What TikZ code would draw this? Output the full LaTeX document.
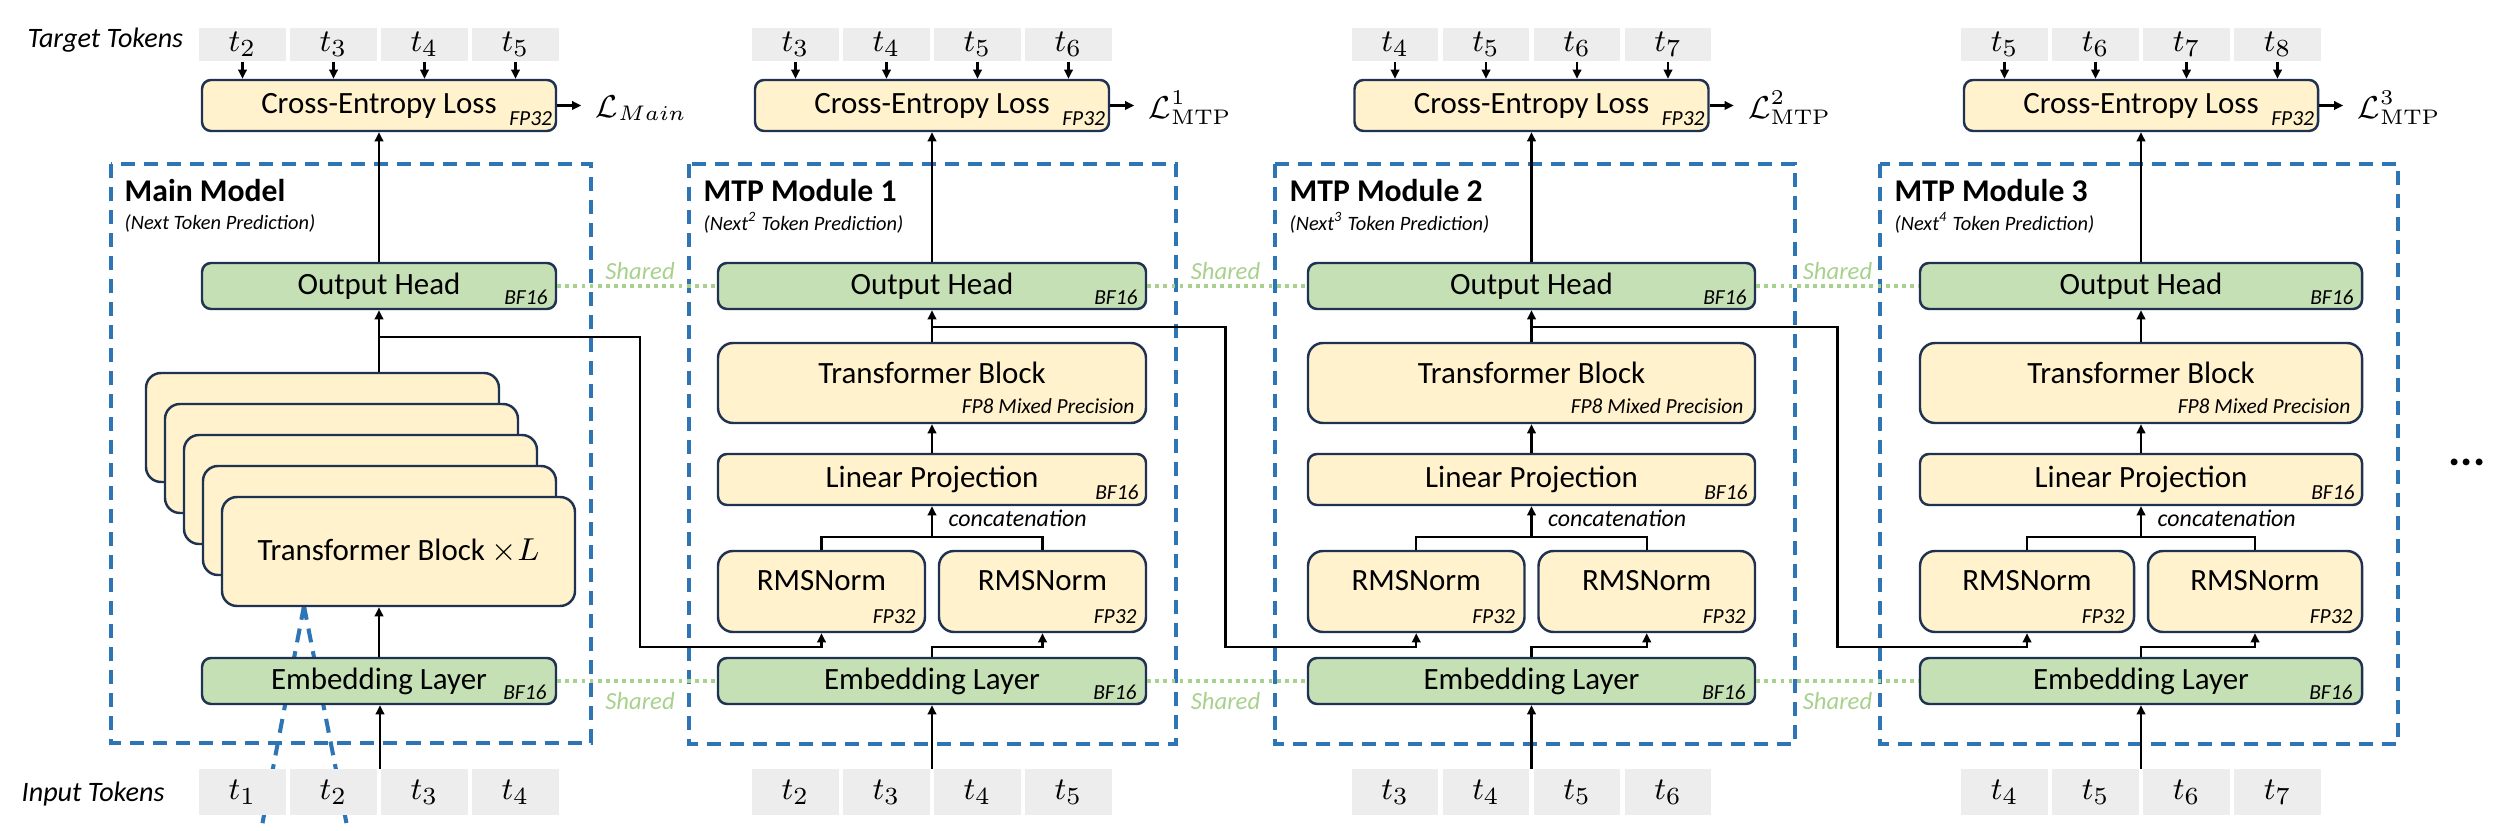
\documentclass[tikz,border=0pt]{standalone}
\usepackage[no-math]{fontspec}
\setmainfont{Carlito}
\usetikzlibrary{arrows.meta,calc}
\definecolor{boxline}{HTML}{1F3251}
\definecolor{yel}{HTML}{FFF2CC}
\definecolor{grn}{HTML}{C5E0B4}
\definecolor{dblue}{HTML}{2E75B6}
\definecolor{shgreen}{HTML}{A9D18E}
\definecolor{tokgray}{HTML}{EDEDED}
\tikzset{
  blk/.style={draw=boxline, line width=0.7pt, rounded corners=0.09cm, inner sep=0pt, font=\fontsize{8.8}{10}\selectfont},
  yblk/.style={blk, fill=yel},
  gblk/.style={blk, fill=grn},
  tallblk/.style={rounded corners=0.15cm},
  blklab/.style={font=\fontsize{8.8}{10}\selectfont, inner sep=0pt},
  tok/.style={fill=tokgray, inner sep=0pt, minimum width=0.86cm, font=\fontsize{9.5}{10}\selectfont},
  prec/.style={font=\fontsize{6.1}{7}\selectfont\itshape, inner sep=0pt},
  arr/.style={line width=0.65pt, -{Triangle[length=2.6pt,width=2.4pt]}},
  conn/.style={line width=0.65pt},
  modbox/.style={draw=dblue, line width=1.15pt, dash pattern=on 0.14cm off 0.09cm},
  shline/.style={draw=shgreen, line width=1.1pt, dash pattern=on 1.1pt off 1.2pt},
  shlab/.style={text=shgreen, font=\fontsize{7}{8}\selectfont\itshape, inner sep=0pt},
  rowlab/.style={font=\fontsize{8}{9}\selectfont\itshape, inner sep=0pt, anchor=base west},
  title/.style={font=\fontsize{9}{10}\selectfont\bfseries, inner sep=0pt, anchor=west},
  subtitle/.style={font=\fontsize{5.8}{7}\selectfont\itshape, inner sep=0pt, anchor=west},
  loss/.style={font=\fontsize{9}{10}\selectfont, inner sep=0pt, anchor=west},
  conlab/.style={font=\fontsize{6.8}{8}\selectfont\itshape, inner sep=0pt, anchor=base west},
}
\newcommand{\bx}[7]{\node[#6, minimum width={((#4)-(#2))*0.01cm}, minimum height={((#5)-(#3))*0.01cm}] (#1) at ({((#2)+(#4))/2},{((#3)+(#5))/2}) {#7};}
\newcommand{\tokens}[5]{%
  \foreach \k in {0,1,2,3}{%
    \pgfmathtruncatemacro{\idx}{#5+\k}%
    \node[tok, minimum height={#4*0.01cm}] (#1\k) at ({#2+(\k-1.5)*91},#3) {$t_{\idx}$};
  }}
\newcommand{\mtpcol}[8]{%
  \pgfmathsetmacro{\cx}{(#2+#3)/2}%
  \pgfmathsetmacro{\rw}{(#3-#2-14)/2}%
  \pgfmathtruncatemacro{\inidx}{#8-1}%
  \draw[modbox] (#4,164) rectangle (#5,744);
  \node[title] (tt#1) at (#4+14,191) {MTP Module #6};
  \node[subtitle] (sub#1) at (#4+14,223) {(Next\textsuperscript{#7} Token Prediction)};
  \tokens{ta#1}{\cx}{44.5}{33}{#8}
  \tokens{ti#1}{\cx}{792}{46}{\inidx}
  \bx{ce#1}{\cx-177}{80}{\cx+177}{131}{yblk}{Cross-Entropy Loss}
  \node[prec,anchor=base east] at ([xshift=-0.045cm,yshift=0.07cm]ce#1.south east) {FP32};
  \bx{oh#1}{#2}{263}{#3}{309}{gblk}{Output Head}
  \node[prec,anchor=base east] at ([xshift=-0.09cm,yshift=0.06cm]oh#1.south east) {BF16};
  \bx{tb#1}{#2}{343}{#3}{423}{yblk,tallblk}{}
  \node[blklab] at ([yshift=0.1cm]tb#1.center) {Transformer Block};
  \node[prec,anchor=base east] at ([xshift=-0.12cm,yshift=0.11cm]tb#1.south east) {FP8 Mixed Precision};
  \bx{lp#1}{#2}{454}{#3}{505}{yblk}{Linear Projection}
  \node[prec,anchor=base east] at ([xshift=-0.08cm,yshift=0.07cm]lp#1.south east) {BF16};
  \bx{rl#1}{#2}{551}{#2+\rw}{632}{yblk,tallblk}{}
  \bx{rr#1}{#3-\rw}{551}{#3}{632}{yblk,tallblk}{}
  \node[blklab] at ([yshift=0.105cm]rl#1.center) {RMSNorm};
  \node[blklab] at ([yshift=0.105cm]rr#1.center) {RMSNorm};
  \node[prec,anchor=base east] at ([xshift=-0.1cm,yshift=0.1cm]rl#1.south east) {FP32};
  \node[prec,anchor=base east] at ([xshift=-0.1cm,yshift=0.1cm]rr#1.south east) {FP32};
  \bx{em#1}{#2}{658}{#3}{704}{gblk}{Embedding Layer}
  \node[prec,anchor=base east] at ([xshift=-0.1cm,yshift=0.06cm]em#1.south east) {BF16};
  \foreach \k in {0,1,2,3}{\draw[arr] (ta#1\k.south) -- (ta#1\k.south |- ce#1.north);}
  \draw[arr] (oh#1.north) -- (ce#1.south);
  \draw[arr] (tb#1.north) -- (oh#1.south);
  \draw[arr] (lp#1.north) -- (tb#1.south);
  \coordinate (cc#1) at (\cx,537);
  \draw[conn] (rl#1.north) |- (cc#1) -| (rr#1.north);
  \draw[arr] (cc#1) -- (lp#1.south);
  \node[conlab] at (\cx+16,527) {concatenation};
  \coordinate (ej#1) at (\cx,647);
  \draw[arr] (em#1.north) -- (ej#1) -| (rr#1.south);
  \coordinate (ia#1) at (\cx,769);
  \draw[arr] (ia#1) -- (em#1.south);
  \draw[arr] (ce#1.east) -- ++(24,0) coordinate (la#1);
  \node[loss] (L#1) at ([xshift=0.14cm]la#1 |- 0,108) {$\mathcal{L}^{#6}_{\mathrm{MTP}}$};
}
\begin{document}
\begin{tikzpicture}[x=0.01cm,y=-0.01cm]
\fill[white] (0,0) rectangle (2502,831);
\useasboundingbox (0,0) rectangle (2502,831);
% zoom lines of the main model
\coordinate (zm) at (304,606);
\coordinate (zl) at (261,831);
\coordinate (zr) at (348,831);
\draw[modbox] (zm) -- (zl);
\draw[modbox] (zm) -- (zr);
% row labels
\node[rowlab] (tgtlab) at (27,48) {Target Tokens};
\node[rowlab] (inlab) at (21,802) {Input Tokens};
% main model
\draw[modbox] (111,164) rectangle (591,743);
\node[title] (tt1) at (124,191) {Main Model};
\node[subtitle] (sub1) at (124,223) {(Next Token Prediction)};
\tokens{ta1}{379}{44.5}{33}{2}
\tokens{ti1}{379}{792}{46}{1}
\bx{ce1}{202}{80}{556}{131}{yblk}{Cross-Entropy Loss}
\node[prec,anchor=base east] at ([xshift=-0.045cm,yshift=0.07cm]ce1.south east) {FP32};
\bx{oh1}{202}{263}{556}{309}{gblk}{Output Head}
\node[prec,anchor=base east] at ([xshift=-0.09cm,yshift=0.06cm]oh1.south east) {BF16};
\foreach \k in {0,1,2,3,4}{\bx{stk\k}{146+19*\k}{373+31*\k}{499+19*\k}{482+31*\k}{yblk,tallblk}{}}
\node[blklab] at (stk4.center) {Transformer Block $\times L$};
\bx{em1}{202}{658}{556}{704}{gblk}{Embedding Layer}
\node[prec,anchor=base east] at ([xshift=-0.1cm,yshift=0.06cm]em1.south east) {BF16};
\foreach \k in {0,1,2,3}{\draw[arr] (ta1\k.south) -- (ta1\k.south |- ce1.north);}
\draw[arr] (oh1.north) -- (ce1.south);
\draw[arr] (oh1.south |- stk0.north) -- (oh1.south);
\draw[arr] (em1.north) -- (em1.north |- stk4.south);
\coordinate (ia1) at (380,769);
\draw[arr] (ia1) -- (ia1 |- em1.south);
\draw[arr] (ce1.east) -- ++(24,0) coordinate (la1);
\node[loss] (L1) at ([xshift=0.14cm]la1 |- 0,108) {$\mathcal{L}_{Main}$};
% MTP modules
\mtpcol{2}{718}{1146}{689}{1176}{1}{2}{3}
\mtpcol{3}{1308}{1755}{1275}{1795}{2}{3}{4}
\mtpcol{4}{1920}{2362}{1880}{2398}{3}{4}{5}
% shared weights
\draw[shline] (oh1.east) -- (oh2.west);
\draw[shline] (oh2.east) -- (oh3.west);
\draw[shline] (oh3.east) -- (oh4.west);
\draw[shline] (em1.east) -- (em2.west);
\draw[shline] (em2.east) -- (em3.west);
\draw[shline] (em3.east) -- (em4.west);
\foreach \x in {640,1225.5,1837.5}{
  \node[shlab] at (\x,271) {Shared};
  \node[shlab] at (\x,701) {Shared};
}
% residual branches
\coordinate (br1) at (379,337);
\draw[arr] (br1) -- (640,337) -- (640,647) -| (rl2.south);
\coordinate (br2) at (932,327);
\draw[arr] (br2) -- (1225.5,327) -- (1225.5,647) -| (rl3.south);
\coordinate (br3) at (1531.5,327);
\draw[arr] (br3) -- (1837.5,327) -- (1837.5,647) -| (rl4.south);
% ellipsis
\node[font=\fontsize{13}{14}\selectfont\bfseries, inner sep=0pt] (dots) at (2467,462) {...};
\end{tikzpicture}
\end{document}
